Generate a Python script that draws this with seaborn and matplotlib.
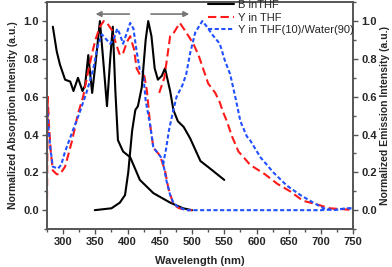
import matplotlib
matplotlib.use("Agg")
import numpy as np
import matplotlib.pyplot as plt
from matplotlib.ticker import MultipleLocator
import seaborn as sns

# B in THF, absorption and emission
b_abs_x = [284, 290, 295, 303, 311, 316, 323, 330, 334, 339, 345, 351, 357, 362, 368, 373, 377,
           381, 385, 393, 404, 419, 440, 466, 486, 500]
b_abs_y = [0.97, 0.84, 0.77, 0.69, 0.68, 0.63, 0.70, 0.63, 0.66, 0.82, 0.62, 0.80, 1.00, 0.80,
           0.55, 0.80, 0.97, 0.63, 0.37, 0.31, 0.28, 0.16, 0.09, 0.04, 0.01, 0.0]
b_em_x = [349, 375, 388, 396, 401, 407, 412, 416, 422, 428, 432, 437, 442, 447, 453, 458, 466,
          471, 478, 487, 492, 497, 505, 513, 528, 550]
b_em_y = [0.0, 0.01, 0.04, 0.08, 0.20, 0.42, 0.53, 0.55, 0.65, 0.90, 1.00, 0.92, 0.75, 0.69,
          0.71, 0.75, 0.63, 0.53, 0.47, 0.44, 0.41, 0.38, 0.32, 0.26, 0.22, 0.16]

# Y in THF
y_abs_x = [275, 276, 278, 281, 284, 290, 295, 303, 314, 323, 331, 338, 345, 350, 357, 363, 368,
           376, 382, 388, 393, 399, 404, 410, 414, 420, 426, 430, 435, 440, 450, 458, 463, 471,
           480, 492, 500]
y_abs_y = [0.06, 0.60, 0.45, 0.30, 0.21, 0.19, 0.19, 0.23, 0.37, 0.51, 0.60, 0.72, 0.83, 0.90,
           0.97, 1.00, 0.99, 0.95, 0.88, 0.82, 0.83, 0.89, 0.92, 0.85, 0.75, 0.71, 0.71, 0.63,
           0.45, 0.33, 0.29, 0.21, 0.12, 0.03, 0.01, 0.0, 0.0]
y_em_x = [449, 457, 466, 472, 481, 489, 502, 510, 516, 525, 536, 543, 548, 554, 562, 572, 580,
          590, 613, 632, 652, 672, 694, 714, 735, 750]
y_em_y = [0.62, 0.70, 0.92, 0.94, 0.99, 0.95, 0.88, 0.82, 0.76, 0.67, 0.62, 0.57, 0.52, 0.47,
          0.39, 0.31, 0.28, 0.24, 0.19, 0.14, 0.10, 0.05, 0.03, 0.01, 0.005, 0.0]

# Y in THF(10)/Water(90)
w_abs_x = [275, 277, 280, 284, 292, 297, 303, 316, 326, 337, 347, 353, 360, 365, 373, 378, 384,
           388, 393, 399, 404, 409, 414, 419, 424, 428, 435, 440, 445, 454, 460, 466, 471, 477,
           490, 520, 600, 700, 750]
w_abs_y = [0.55, 0.45, 0.33, 0.23, 0.22, 0.24, 0.31, 0.43, 0.52, 0.63, 0.75, 0.86, 0.93, 0.91,
           0.88, 0.90, 0.96, 0.93, 0.88, 0.94, 0.99, 0.96, 0.84, 0.74, 0.73, 0.58, 0.45, 0.33,
           0.31, 0.27, 0.16, 0.08, 0.04, 0.02, 0.0, 0.0, 0.0, 0.0, 0.01]
w_em_x = [455, 460, 464, 471, 476, 485, 491, 497, 505, 516, 523, 531, 543, 551, 559, 567, 575,
          585, 590, 606, 626, 647, 668, 688, 704, 720, 740, 750]
w_em_y = [0.24, 0.33, 0.42, 0.53, 0.60, 0.66, 0.72, 0.83, 0.94, 1.00, 0.97, 0.93, 0.88, 0.79,
          0.72, 0.60, 0.47, 0.39, 0.37, 0.28, 0.20, 0.13, 0.08, 0.04, 0.01, 0.0, 0.01, 0.01]

labels = ["B inTHF", "Y in THF", "Y in THF(10)/Water(90)"]

sns.set_style("ticks")
plt.rcParams["font.family"] = ["Liberation Sans", "DejaVu Sans"]

fig = plt.figure(figsize=(3.92, 2.67), dpi=100)
ax = fig.add_axes([0.12, 0.142, 0.781, 0.85])
ax2 = ax.twinx()

red = "#ff1a1a"
blue = "#2050ff"
lw = 1.5

sns.lineplot(x=b_abs_x, y=b_abs_y, ax=ax, color="black", lw=lw)
sns.lineplot(x=y_abs_x, y=y_abs_y, ax=ax, color=red, lw=lw).lines[-1].set_dashes([4, 2])
sns.lineplot(x=w_abs_x, y=w_abs_y, ax=ax, color=blue, lw=lw).lines[-1].set_dashes([2, 1.2])

sns.lineplot(x=b_em_x, y=b_em_y, ax=ax2, color="black", lw=lw, label=labels[0])
sns.lineplot(x=y_em_x, y=y_em_y, ax=ax2, color=red, lw=lw, label=labels[1]).lines[-1].set_dashes([4, 2])
sns.lineplot(x=w_em_x, y=w_em_y, ax=ax2, color=blue, lw=lw, label=labels[2]).lines[-1].set_dashes([2, 1.2])

for a in (ax, ax2):
    a.set_xlim(275, 750)
    a.set_ylim(-0.1, 1.1)
    a.yaxis.set_major_locator(MultipleLocator(0.2))
    a.yaxis.set_minor_locator(MultipleLocator(0.1))
    for s in a.spines.values():
        s.set_color("#555555")
        s.set_linewidth(1.2)
    a.tick_params(which="both", color="#555555", width=1, direction="out")
    a.tick_params(which="major", length=3.5, labelsize=8, pad=2.5)
    a.tick_params(which="minor", length=2)

ax.xaxis.set_major_locator(MultipleLocator(50))
ax.xaxis.set_minor_locator(MultipleLocator(25))
ax.set_xticks(np.arange(300, 751, 50))

for t in ax.get_xticklabels() + ax.get_yticklabels() + ax2.get_yticklabels():
    t.set_fontweight("bold")

ax.set_xlabel("Wavelength (nm)", fontsize=8, fontweight="bold", labelpad=6)
ax.set_ylabel("Normalized Absorption Intensity (a.u.)", fontsize=7.5, fontweight="bold", labelpad=4)
ax2.set_ylabel("Normalized Emission Intensity (a.u.)", fontsize=7.5, fontweight="bold", labelpad=2)

arrow_kw = dict(arrowstyle="-|>", color="#777777", lw=1.2, mutation_scale=8)
ax.annotate("", xy=(346, 1.037), xytext=(407, 1.037), arrowprops=arrow_kw)
ax.annotate("", xy=(500, 1.037), xytext=(432, 1.037), arrowprops=arrow_kw)

ax2.legend(loc="upper left", bbox_to_anchor=(0.51, 1.03), frameon=False, fontsize=8,
           handlelength=2.4, handletextpad=0.3, labelspacing=0.25, borderaxespad=0)

fig.savefig("out.png", dpi=100)
